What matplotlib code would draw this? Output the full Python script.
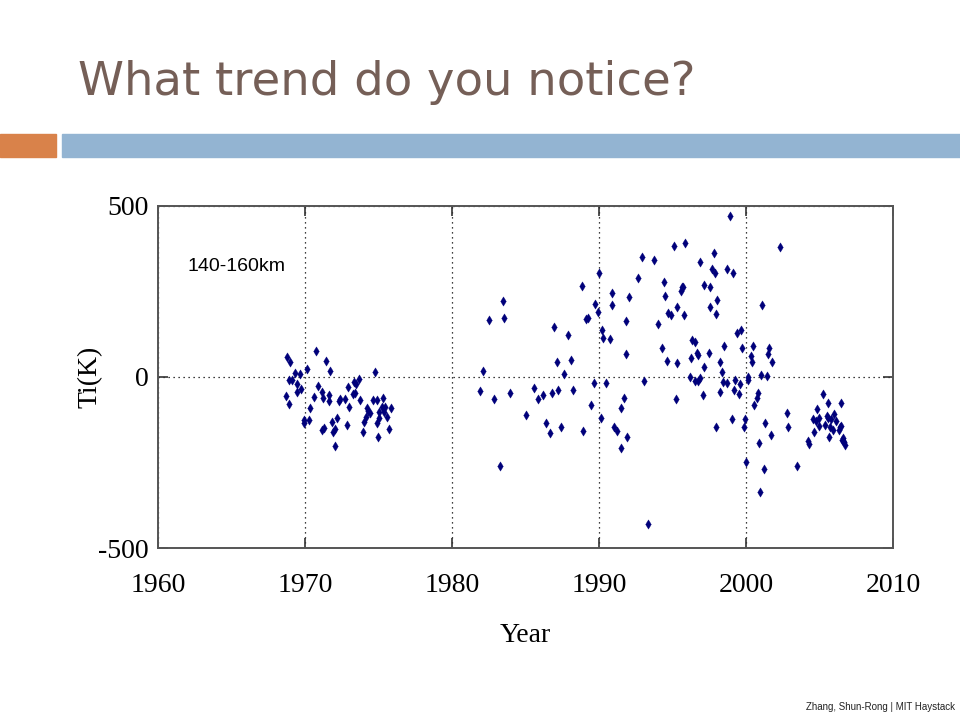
import matplotlib
matplotlib.use('Agg')
import matplotlib.pyplot as plt
from matplotlib.patches import Rectangle

plt.rcParams['axes.unicode_minus'] = False

# Ti deviations at 140-160 km
years_70s = [1968.75, 1968.97, 1969.31, 1969.63, 1968.89, 1969.14, 1969.48, 1969.75, 1969.43, 1968.68,
             1968.91, 1970.16, 1970.74, 1971.40, 1971.72, 1970.88, 1971.15, 1970.60, 1971.24, 1971.62,
             1971.60, 1970.33, 1969.93, 1969.96, 1970.29, 1971.13, 1971.28, 1971.83, 1972.15, 1972.06,
             1971.92, 1972.01, 1972.35, 1972.28, 1972.74, 1972.91, 1972.96, 1972.82, 1973.23, 1973.37,
             1973.32, 1973.48, 1973.66, 1973.73, 1974.73, 1974.18, 1974.27, 1974.41, 1974.13, 1974.00,
             1973.96, 1974.64, 1974.88, 1975.04, 1975.27, 1975.22, 1975.45, 1975.36, 1975.54, 1975.81,
             1975.06, 1974.86, 1974.98, 1975.74]
ti_70s = [59, 44, 13, 8, -9, -9, -21, -34, -45, -56,
          -79, 24, 77, 48, 18, -26, -45, -58, -62, -53,
          -69, -90, -126, -133, -126, -155, -150, -130, -121, -151,
          -161, -201, -65, -71, -65, -30, -87, -139, -50, -48,
          -15, -20, -6, -68, 14, -90, -98, -106, -118, -132,
          -161, -67, -67, -101, -61, -87, -87, -103, -116, -90,
          -121, -135, -174, -152]

years_80s = [1983.48, 1982.48, 1983.55, 1982.10, 1981.87, 1982.87, 1983.96, 1983.23, 1985.02, 1985.57,
             1985.81, 1986.15, 1986.40, 1986.63, 1986.81, 1986.92, 1987.10, 1987.17, 1987.40, 1987.58,
             1987.88, 1988.05, 1988.19, 1988.85, 1988.93, 1989.12, 1989.23, 1989.41, 1989.64, 1989.71,
             1989.91]
ti_80s = [222, 166, 173, 18, -42, -64, -46, -260, -112, -31,
          -64, -53, -133, -164, -46, 147, 43, -38, -146, 10,
          122, 50, -38, 266, -157, 169, 173, -83, -17, 214,
          191]

years_90s = [1990.00, 1990.14, 1990.20, 1990.27, 1990.48, 1990.71, 1990.90, 1990.86, 1992.06, 1991.85,
             1991.79, 1992.63, 1992.94, 1993.75, 1993.03, 1991.68, 1991.51, 1991.04, 1991.20, 1991.92,
             1991.47, 1993.31, 1994.03, 1994.30, 1994.60, 1994.43, 1994.48, 1994.70, 1994.87, 1995.09,
             1995.32, 1995.30, 1995.21, 1995.55, 1995.63, 1995.72, 1995.79, 1995.86, 1996.18, 1996.27,
             1996.33, 1996.52, 1996.52, 1996.63, 1996.72, 1996.74, 1996.88, 1996.86, 1997.04, 1997.11,
             1997.15, 1997.45, 1997.56, 1997.56, 1997.69, 1997.85, 1997.83, 1997.92, 1998.03, 1997.96,
             1998.21, 1998.35, 1998.21, 1998.42, 1998.51, 1998.69, 1998.71, 1998.87, 1999.12, 1999.01,
             1999.19, 1999.23, 1999.35, 1999.48, 1999.59, 1999.66, 1999.73, 1999.84, 1999.89]
ti_90s = [303, -119, 137, 114, -17, 110, 244, 210, 233, 163,
          66, 288, 351, 341, -13, -60, -90, -146, -157, -175,
          -208, -430, 155, 85, 48, 277, 236, 188, 181, 382,
          203, 41, -64, 252, 262, 264, 181, 392, 0, 55,
          107, 103, -12, 71, 63, -12, -2, 336, -53, 29,
          269, 69, 262, 203, 314, 304, 362, 184, 225, -146,
          43, 14, -43, -14, 91, -17, 314, 471, 303, -123,
          -38, -9, 128, -49, -20, 137, 85, -146, -123]

years_00s = [2000.00, 2000.10, 2000.12, 2002.27, 2001.07, 2000.48, 2000.30, 2000.41, 2001.56, 2001.50,
             2001.73, 2000.98, 2001.39, 2000.77, 2000.71, 2000.54, 2001.27, 2001.68, 2000.85, 2001.20,
             2000.95, 2002.74, 2002.81, 2003.46, 2004.21, 2004.24, 2005.23, 2005.59, 2004.80, 2006.43,
             2004.55, 2004.71, 2004.94, 2004.98, 2005.48, 2005.53, 2005.75, 2005.98, 2006.09, 2005.34,
             2005.70, 2005.89, 2006.36, 2006.43, 2006.29, 2004.62, 2005.64, 2006.50, 2006.61, 2006.68,
             2006.72, 2006.56]
ti_00s = [-249, 1, -9, 380, 210, 91, 62, 43, 85, 66,
          43, 7, 3, -46, -60, -83, -135, -168, -194, -268,
          -336, -104, -146, -260, -186, -195, -50, -75, -94, -75,
          -123, -129, -142, -121, -114, -121, -123, -107, -128, -141,
          -145, -155, -145, -143, -155, -161, -176, -184, -179, -189,
          -198, -186]

years = years_70s + years_80s + years_90s + years_00s
ti = ti_70s + ti_80s + ti_90s + ti_00s

x_ticks = [1960, 1970, 1980, 1990, 2000, 2010]
y_ticks = [-500, 0, 500]

fig = plt.figure(figsize=(9.6, 7.2), dpi=100)

# slide header
fig.text(78 / 960, 1 - 95 / 720, "What trend do you notice?", fontsize=33.5,
         family="DejaVu Sans", color="#755F57", va="baseline")
fig.patches.append(Rectangle((0, 1 - 157 / 720), 56 / 960, 23 / 720,
                             transform=fig.transFigure, color="#D9824A"))
fig.patches.append(Rectangle((62 / 960, 1 - 157 / 720), 1 - 62 / 960, 23 / 720,
                             transform=fig.transFigure, color="#93B4D2"))
fig.text(955 / 960, 1 - 707 / 720, "Zhang, Shun-Rong | MIT Haystack", fontsize=7,
         family="Liberation Sans", ha="right", va="center", color="#222222")

ax = fig.add_axes([158 / 960, 1 - 548.3 / 720, 735.3 / 960, 342.6 / 720])
ax.scatter(years, ti, marker="d", s=22, color="#00007A", linewidths=0.3, zorder=3)

ax.set_xlim(1960, 2010)
ax.set_ylim(-500, 500)
ax.set_xticks(x_ticks)
ax.set_yticks(y_ticks)
ax.grid(True, linestyle=(0, (1, 3)), color="black", linewidth=0.9)

for lab in ax.get_xticklabels() + ax.get_yticklabels():
    lab.set_family("Liberation Serif")
    lab.set_fontsize(20)
ax.tick_params(direction="in", length=7, width=1.2, top=True, right=True, color="#333333")
ax.tick_params(axis="x", pad=18)
ax.tick_params(axis="y", pad=7)
for sp in ax.spines.values():
    sp.set_color("#555555")
    sp.set_linewidth(1.4)

ax.set_xlabel("Year", family="Liberation Serif", fontsize=20)
ax.xaxis.set_label_coords(0.5, -0.218)
ax.set_ylabel("Ti(K)", family="Liberation Serif", fontsize=20)
ax.yaxis.set_label_coords(-0.075, 0.5)

ax.text(0.040, 0.822, "140-160km", transform=ax.transAxes, fontsize=14,
        family="Liberation Sans", va="center")

fig.savefig("out.png", dpi=100)
